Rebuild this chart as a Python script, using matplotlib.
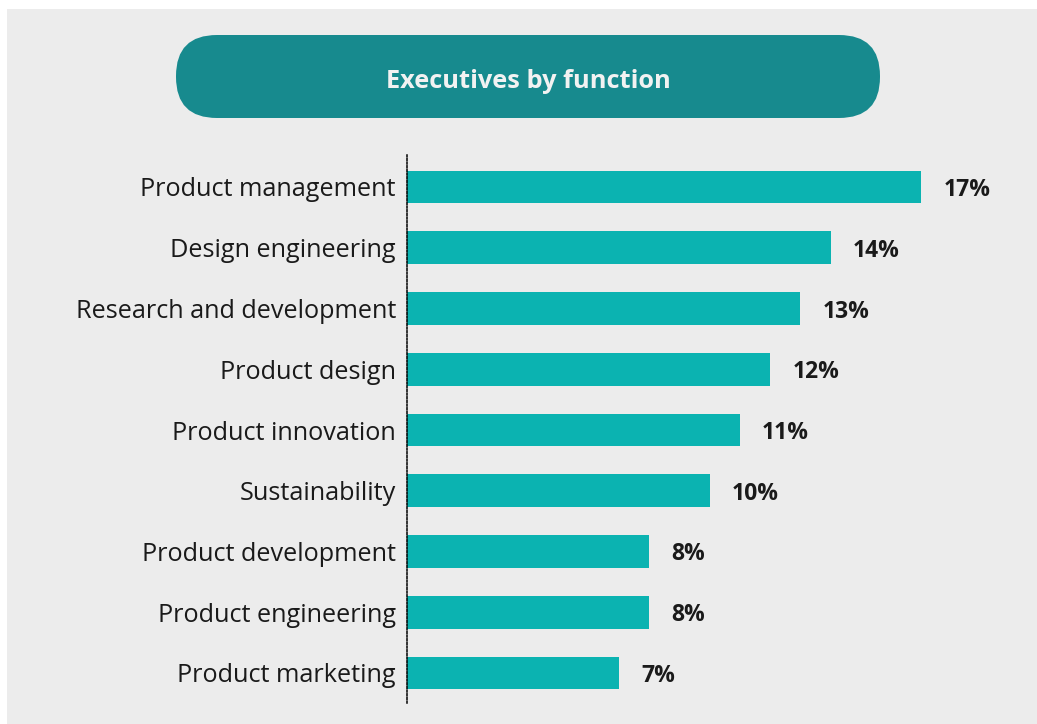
import matplotlib.pyplot as plt
from matplotlib.patches import FancyBboxPatch, Rectangle

functions = [
    "Product management",
    "Design engineering",
    "Research and development",
    "Product design",
    "Product innovation",
    "Sustainability",
    "Product development",
    "Product engineering",
    "Product marketing",
]
shares = [17, 14, 13, 12, 11, 10, 8, 8, 7]
title = "Executives by function"

W, H = 1037, 724
bg = "#ececec"
bar_color = "#0bb3b1"
pill_color = "#178a8e"
text_color = "#1a1a1a"

plt.rcParams["font.family"] = ["Open Sans", "DejaVu Sans"]

fig = plt.figure(figsize=(W / 100, H / 100), dpi=100)
fig.patch.set_facecolor("white")

# background panel and title pill, drawn in pixel coordinates
deco = fig.add_axes([0, 0, 1, 1])
deco.set_xlim(0, W)
deco.set_ylim(H, 0)
deco.set_axis_off()
deco.add_patch(Rectangle((7, 9), W - 7, H - 9, facecolor=bg, edgecolor="none"))
deco.add_patch(FancyBboxPatch((176, 35), 704, 83,
                              boxstyle="round,pad=0,rounding_size=41",
                              facecolor=pill_color, edgecolor="none"))
deco.text(528, 78, title, ha="center", va="center_baseline", fontsize=18.3,
          fontweight="bold", color="#f2f2f2")

# bar chart
ax_left, ax_right = 407 / W, 1030 / W
ax_top, ax_bottom = 155, 703
ax = fig.add_axes([ax_left, 1 - ax_bottom / H, ax_right - ax_left, (ax_bottom - ax_top) / H])
ax.patch.set_alpha(0)
px_per_unit = 30.25
ax.set_xlim(0, (1030 - 407) / px_per_unit)
spacing = 60.75
ax.set_ylim((ax_bottom - 187) / spacing, -(187 - ax_top) / spacing)

ypos = list(range(len(functions)))
ax.barh(ypos, shares, height=0.54, color=bar_color)
for y, v in zip(ypos, shares):
    ax.annotate(f"{v}%", (v, y), xytext=(16, 0), textcoords="offset points",
                ha="left", va="center_baseline", fontsize=16.5, fontweight="bold",
                color=text_color)

ax.set_yticks(ypos)
ax.set_yticklabels(functions, fontsize=18.2, color=text_color)
ax.tick_params(axis="y", length=0, pad=8)
ax.set_xticks([])
for s in ["top", "right", "bottom"]:
    ax.spines[s].set_visible(False)
ax.spines["left"].set_linestyle((0, (1.2, 1.2)))
ax.spines["left"].set_linewidth(1.1)
ax.spines["left"].set_color("black")

fig.savefig("out.png", dpi=100, facecolor=fig.get_facecolor())
